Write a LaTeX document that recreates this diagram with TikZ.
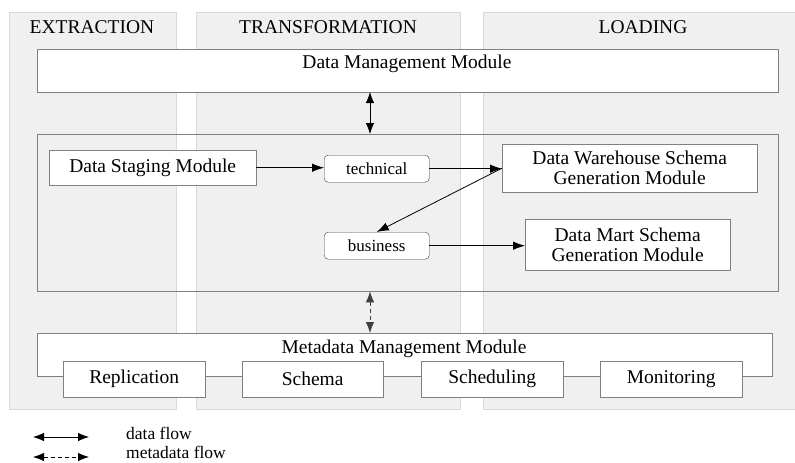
\documentclass[tikz,border=0pt]{standalone}
\usepackage{fontspec}
\setmainfont{Liberation Serif}
\usetikzlibrary{arrows.meta}

\begin{document}
\begin{tikzpicture}[x=1pt, y=-1pt,
  lane/.style={draw=black!15, fill=black!6, anchor=north west, inner sep=0pt},
  txt/.style={font=\fontsize{19.5}{20}\selectfont, inner sep=0pt},
  legtxt/.style={font=\fontsize{17.5}{18}\selectfont, inner sep=0pt, anchor=west},
  modbox/.style={draw=black!50, fill=white, anchor=north west, inner sep=0pt, align=center, font=\fontsize{19.5}{20}\selectfont},
  tagbox/.style={draw=black!75, rounded corners=4pt, fill=white, anchor=north west, inner sep=0pt, font=\fontsize{17}{18}\selectfont},
  arr/.style={-{Latex[length=12pt, width=8.5pt]}, thick},
  flow/.style={{Latex[length=11pt, width=8.5pt]}-{Latex[length=11pt, width=8.5pt]}, thick},
  metaflow/.style={flow, dash pattern=on 4pt off 3pt, black!75}
]
  \useasboundingbox (0,0) rectangle (795,463);

  % === CORSIE: Extraction / Transformation / Loading ===
  \node[lane, minimum width=167pt, minimum height=397pt] (ext) at (9,12) {};
  \node[lane, minimum width=264pt, minimum height=397pt] (tra) at (196,12) {};
  \node[lane, minimum width=313pt, minimum height=397pt] (loa) at (483,12) {};
  \node[txt] (extt) at (92,27) {EXTRACTION};
  \node[txt] (trat) at (328,27) {TRANSFORMATION};
  \node[txt] (loat) at (643,27) {LOADING};

  % === Data Management Module ===
  \node[modbox, minimum width=741pt, minimum height=43pt] (dmm) at (37,49) {};
  \node[txt] (dmmt) at (407,64) {Data Management Module};

  % === Blocco centrale ===
  \node[draw=black!50, anchor=north west, inner sep=0pt, minimum width=741pt, minimum height=157pt] (core) at (37,134) {};
  \node[modbox, minimum width=207pt, minimum height=35pt] (staging) at (49,150) {Data Staging Module};
  \node[tagbox, minimum width=105pt, minimum height=27pt] (technical) at (324,155) {technical};
  \node[tagbox, minimum width=105pt, minimum height=27pt] (business) at (324,232) {business};
  \node[modbox, minimum width=255pt, minimum height=48pt] (dws) at (502,144) {Data Warehouse Schema\\Generation Module};
  \node[modbox, minimum width=205pt, minimum height=51pt] (dms) at (525,219) {Data Mart Schema\\Generation Module};

  \draw[arr] (staging.east) -- (staging.east -| technical.west);
  \draw[arr] (technical.east) -- (technical.east -| dws.west);
  \draw[arr] (dws.west) -- (business.north);
  \draw[arr] (business.east) -- (business.east -| dms.west);

  % === Metadata Management Module ===
  \node[modbox, minimum width=735pt, minimum height=43pt] (meta) at (37,333) {};
  \node[txt] (metat) at (404,349) {Metadata Management Module};
  \node[modbox, minimum width=142pt, minimum height=36pt] (replication) at (63,361) {Replication};
  \node[modbox, minimum width=141pt, minimum height=36pt] (schema) at (242,361) {Schema};
  \node[modbox, minimum width=142pt, minimum height=36pt] (scheduling) at (421,361) {Scheduling};
  \node[modbox, minimum width=142pt, minimum height=36pt] (monitoring) at (600,361) {Monitoring};

  % collegamenti verticali
  \coordinate (link) at (370,92);
  \draw[flow] (link) -- (link |- core.north);
  \draw[metaflow] (link |- core.south) -- (link |- meta.north);

  % === Legenda ===
  \coordinate (dfa) at (33,437);
  \coordinate (dfb) at (89,437);
  \coordinate (mfa) at (33,457);
  \coordinate (mfb) at (89,457);
  \draw[flow] (dfa) -- (dfb);
  \draw[metaflow, black] (mfa) -- (mfb);
  \node[legtxt] (dflab) at (126,433.5) {data flow};
  \node[legtxt] (mflab) at (126,452.5) {metadata flow};
\end{tikzpicture}
\end{document}
